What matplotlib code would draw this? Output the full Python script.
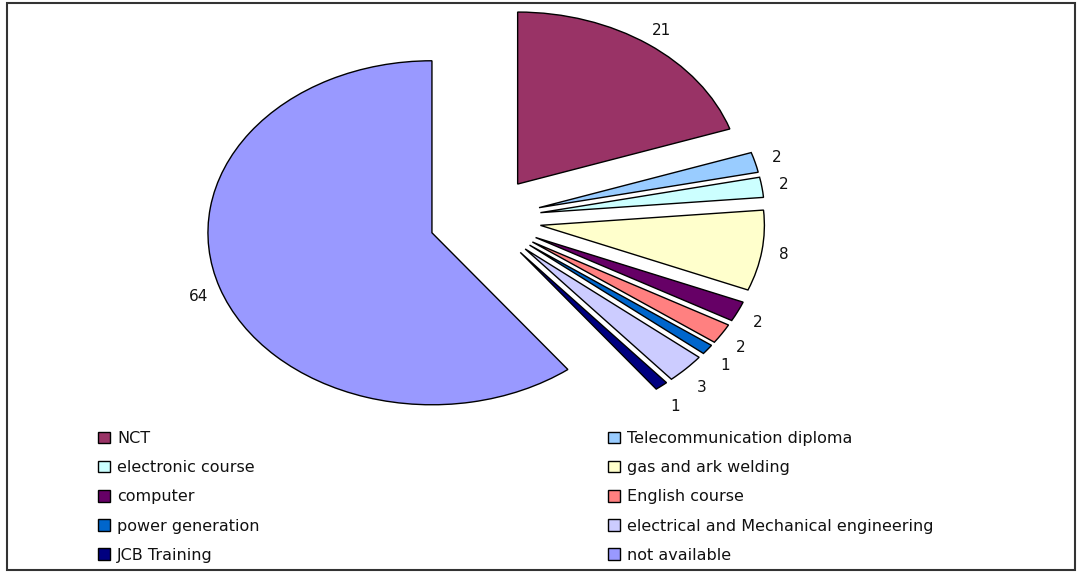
import matplotlib
matplotlib.use("Agg")
import matplotlib.pyplot as plt
import numpy as np
from matplotlib.patches import Rectangle

# ── Datos ────────────────────────────────────────────────────
cursos = ["NCT", "Telecommunication diploma", "electronic course",
          "gas and ark welding", "computer", "English course",
          "power generation", "electrical and Mechanical engineering",
          "JCB Training", "not available"]
valores = [21, 2, 2, 8, 2, 2, 1, 3, 1, 64]
colores = ["#993366", "#99CCFF", "#CCFFFF", "#FFFFCC", "#660066",
           "#FF8080", "#0066CC", "#CCCCFF", "#000080", "#9999FF"]

plt.rcParams["font.family"] = ["DejaVu Sans"]

W, H = 1078, 573
fig = plt.figure(figsize=(W / 100, H / 100), dpi=100)
ax = fig.add_axes([0, 0, 1, 1])

wedges, _ = ax.pie(
    valores,
    colors=colores,
    explode=[0.25] * len(valores),
    startangle=90,
    counterclock=False,
    wedgeprops=dict(edgecolor="black", linewidth=1.0),
)

# etiquetas de valor fuera de cada porción
for w, v in zip(wedges, valores):
    ang = np.deg2rad((w.theta1 + w.theta2) / 2)
    c, s = np.cos(ang), np.sin(ang)
    x0, y0 = w.center
    ax.annotate(str(v), xy=(x0 + 1.1 * w.r * c, y0 + 1.1 * w.r * s),
                xytext=(0, 9 * min(s, 0)), textcoords="offset pixels",
                ha="center", va="center", fontsize=11, color="#111111")

# el gráfico original está estirado en horizontal
cx, cy, sx, sy = 485, 219, 224, 172
ax.set_aspect("auto")
ax.set_xlim(-cx / sx, (W - cx) / sx)
ax.set_ylim((cy - H) / sy, cy / sy)
ax.axis("off")

# ── Leyenda en dos columnas ─────────────────────────────────
estilo = dict(frameon=False, fontsize=11.5, loc="upper left",
              handlelength=0.75, handleheight=0.75, handletextpad=0.45,
              labelspacing=0.89, borderpad=0, borderaxespad=0)
for col, x0 in [(0, 98), (1, 608)]:
    idx = list(range(col, len(cursos), 2))
    leg = fig.legend([wedges[i] for i in idx], [cursos[i] for i in idx],
                     bbox_to_anchor=(x0 / W, 1 - 431 / H), **estilo)
    for txt in leg.get_texts():
        txt.set_color("#111111")

# marco exterior
fig.patches.append(Rectangle((7 / W, 3 / H), 1068 / W, 567 / H,
                             transform=fig.transFigure, fill=False,
                             edgecolor="#333333", linewidth=1.5))

fig.savefig("out.png", dpi=100)
